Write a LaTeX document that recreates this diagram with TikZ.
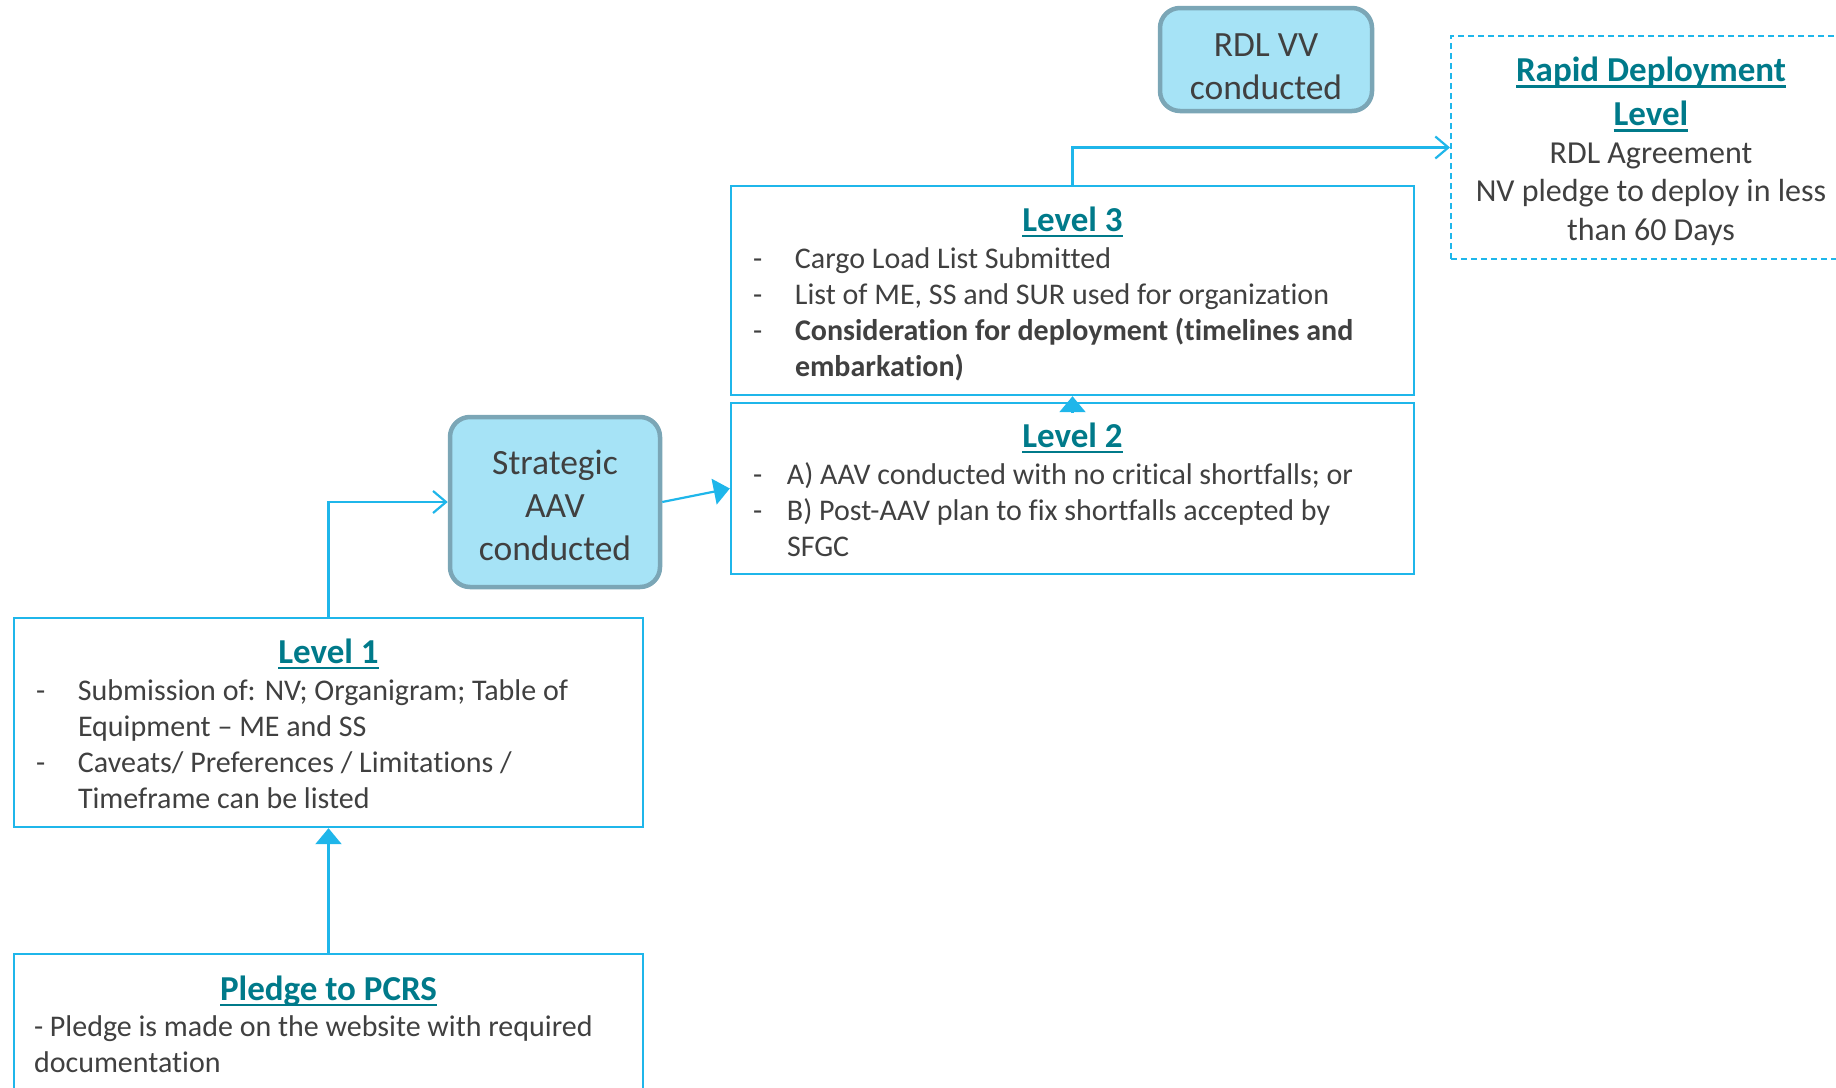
\documentclass[tikz,border=0pt]{standalone}
\usepackage{fontspec}
\setmainfont{Carlito}[Ligatures={TeX,NoCommon}]
\usetikzlibrary{arrows.meta}

\definecolor{edge}{HTML}{1FB6EA}
\definecolor{headcol}{HTML}{007A8A}
\definecolor{ink}{HTML}{404040}
\definecolor{bubble}{HTML}{A6E3F6}
\definecolor{bubbleedge}{HTML}{7BA6B6}

% heading: bold, teal, with a low thick underline
\newcommand\hd[1]{{\fontsize{35}{41}\selectfont\bfseries\color{headcol}%
  \setbox0\hbox{#1}\rlap{\rule[-6pt]{\wd0}{2.6pt}}\box0}}
% centred heading line at the top of a box (optional strut height)
\newcommand\boxhead[2][32pt]{{\centering\rule{0pt}{#1}\hd{#2}\par}\vspace{1.5pt}}
% dash item with hanging indent
\newcommand\bul[2]{\par\hangindent=#1\hangafter=1\noindent\makebox[#1][l]{-}#2\par}

\tikzset{
  box/.style={draw=edge, line width=2.4pt, inner xsep=22pt, inner ysep=0pt,
    text=ink, align=flush left, font=\fontsize{30}{36}\selectfont},
  bubblebox/.style={draw=bubbleedge, fill=bubble, line width=4.5pt,
    rounded corners=20pt, text=ink, align=center,
    font=\fontsize{35.5}{43}\selectfont, inner sep=0pt},
  dashbox/.style={draw=edge, line width=2pt, dash pattern=on 6pt off 4pt,
    text=ink, align=center, inner sep=0pt, font=\fontsize{32}{38.5}\selectfont},
  conn/.style={draw=edge, line width=2.2pt},
  solidtip/.style={-{Triangle[length=16pt,width=26pt]}},
  opentip/.style={-{Straight Barb[length=13pt,width=22pt,line width=2.2pt]}}
}

\begin{document}
\begin{tikzpicture}[x=1pt,y=-1pt]
\useasboundingbox (0,0) rectangle (1836,1087);

\node[bubblebox, minimum width=212pt, minimum height=103pt] (rdlvv)
  at (1266,59.5) {\rule{0pt}{37pt}RDL VV\\conducted};

\node[dashbox, minimum width=400pt, minimum height=223pt] (rdl)
  at (1651,147.5)
  {\rule{0pt}{32pt}\hd{Rapid Deployment}\\[5.5pt]\hd{Level}\\[-1pt]RDL Agreement\\NV pledge to deploy in less\\than 60 Days};

\node[box, text width=639pt, minimum height=209pt] (l3) at (1072.5,290.5) {%
  \boxhead{Level 3}
  \bul{42pt}{Cargo Load List Submitted}
  \bul{42pt}{List of ME, SS and SUR used for organization}
  \bul{42pt}{\bfseries Consideration for deployment (timelines and\newline embarkation)}};

\node[box, text width=639pt, minimum height=171pt] (l2) at (1072.5,488.5) {%
  \boxhead[27pt]{Level 2}
  \bul{34pt}{A) AAV conducted with no critical shortfalls; or}
  \bul{34pt}{B) Post-AAV plan to fix shortfalls accepted by\newline SFGC}};

\node[bubblebox, minimum width=210pt, minimum height=170pt] (aav)
  at (555,502) {\rule{0pt}{32pt}Strategic\\AAV\\conducted};

\node[box, text width=585pt, minimum height=209pt] (l1) at (328.5,722.5) {%
  \boxhead[27pt]{Level 1}
  \bul{42pt}{Submission of: NV; Organigram; Table of\newline Equipment – ME and SS}
  \bul{42pt}{Caveats/ Preferences / Limitations /\newline Timeframe can be listed}};

\node[box, text width=589pt, inner xsep=20pt, minimum height=140pt] (pledge) at (328.5,1024) {%
  {\centering\hd{Pledge to PCRS}\par}
  \noindent- Pledge is made on the website with required\newline documentation\par};

\draw[conn, solidtip] (pledge.north) -- (l1.south);
\draw[conn, opentip] (l1.north) |- (aav.west);
\draw[conn, solidtip] (aav.east) -- (l2.west);
\draw[conn, solidtip] ([yshift=-10.5pt]l2.north) -- (l3.south);
\draw[conn, opentip] (l3.north) |- (rdl.west);
\end{tikzpicture}
\end{document}
